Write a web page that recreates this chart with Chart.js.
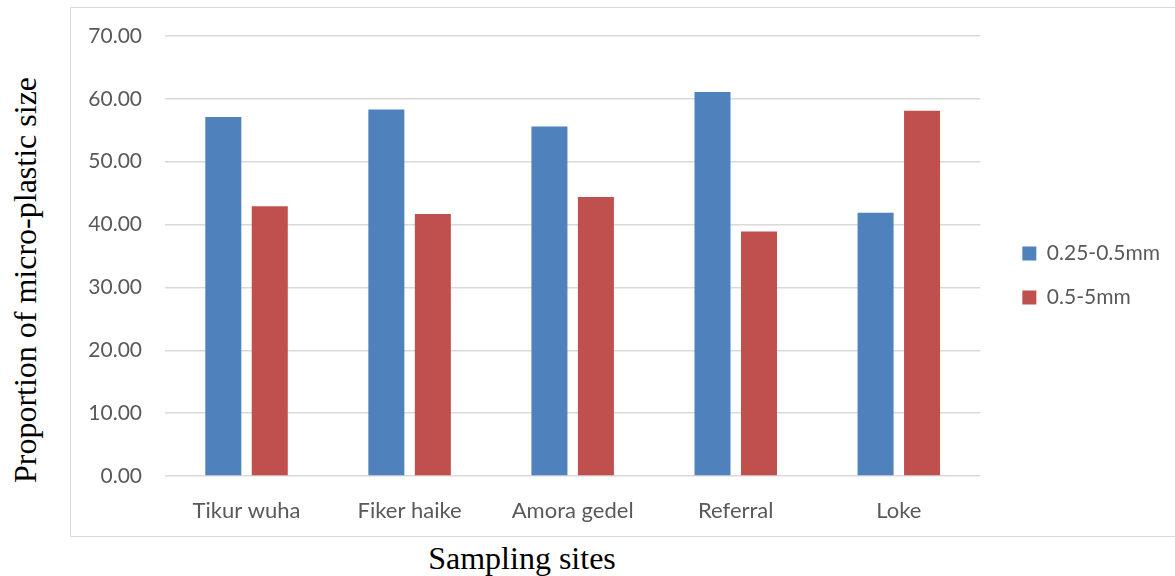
<!DOCTYPE html>
<html>
<head>
<meta charset="utf-8">
<script src="https://cdn.jsdelivr.net/npm/chart.js@4/dist/chart.umd.min.js"></script>
<style>
  html, body { margin: 0; padding: 0; background: #ffffff; }
  body { width: 1175px; height: 576px; overflow: hidden; position: relative; }
  #frame {
    position: absolute; left: 70px; top: 7px; width: 1120px; height: 530px;
    border: 1px solid #d9d9d9; box-sizing: border-box;
  }
  #wrap { position: absolute; left: 71px; top: 8px; width: 1104px; height: 529px; }
  .axis-title {
    position: absolute; font-family: "Liberation Serif", "DejaVu Serif", serif;
    font-size: 32px; color: #000000; white-space: nowrap; line-height: 1;
  }
  #ytitle { left: 25px; top: 280px; transform: translate(-50%, -50%) rotate(-90deg); }
  #xtitle { left: 522px; top: 558px; transform: translate(-50%, -50%); }
</style>
</head>
<body>
<div id="frame"></div>
<div id="wrap"><canvas id="chart" width="1104" height="529"></canvas></div>
<div id="ytitle" class="axis-title">Proportion of micro-plastic size</div>
<div id="xtitle" class="axis-title">Sampling sites</div>
<script>
// Sampling sites and share (%) of each micro-plastic size class
const sites = ["Tikur wuha", "Fiker haike", "Amora gedel", "Referral", "Loke"];
const smallSize = [57.1, 58.3, 55.6, 61.1, 41.9];   // 0.25-0.5mm
const largeSize = [42.9, 41.7, 44.4, 38.9, 58.1];   // 0.5-5mm
const seriesNames = ["0.25-0.5mm", "0.5-5mm"];
const yTicks = [0, 10, 20, 30, 40, 50, 60, 70];

const fontFamily = "Lato, 'Noto Sans', sans-serif";
const textColor = "#595959";

new Chart(document.getElementById("chart"), {
  type: "bar",
  data: {
    labels: sites,
    datasets: [
      { label: seriesNames[0], data: smallSize, backgroundColor: "#4f81bd",
        categoryPercentage: 0.57, barPercentage: 0.775 },
      { label: seriesNames[1], data: largeSize, backgroundColor: "#c0504d",
        categoryPercentage: 0.57, barPercentage: 0.775 }
    ]
  },
  options: {
    responsive: false,
    animation: false,
    layout: { padding: { top: 21, right: 5, bottom: 15, left: 0 } },
    plugins: {
      tooltip: { enabled: false },
      legend: {
        position: "right",
        labels: {
          font: { family: fontFamily, size: 21 }, color: textColor,
          boxWidth: 14, boxHeight: 14, padding: 23
        }
      }
    },
    scales: {
      x: {
        grid: { display: false, drawTicks: false },
        border: { display: false },
        ticks: { font: { family: fontFamily, size: 22 }, color: textColor,
                 padding: 22, maxRotation: 0 },
        afterFit: s => { s.height = 46; }
      },
      y: {
        min: 0, max: 70,
        afterBuildTicks: s => { s.ticks = yTicks.map(v => ({ value: v })); },
        grid: { color: "#d9d9d9", lineWidth: 1.5, drawTicks: false },
        border: { display: false },
        ticks: { font: { family: fontFamily, size: 21 }, color: textColor, padding: 23,
                 callback: v => Number(v).toFixed(2) },
        // fixed gutter width and headroom above the top gridline
        afterFit: s => { s.width = 94; s.paddingTop = 28; s.paddingBottom = 0; }
      },
      // empty spacer between plot and legend
      gap: {
        type: "linear", position: "right", display: true,
        grid: { display: false, drawTicks: false },
        border: { display: false },
        ticks: { display: false },
        afterFit: s => { s.width = 19; }
      }
    }
  }
});
</script>
</body>
</html>
